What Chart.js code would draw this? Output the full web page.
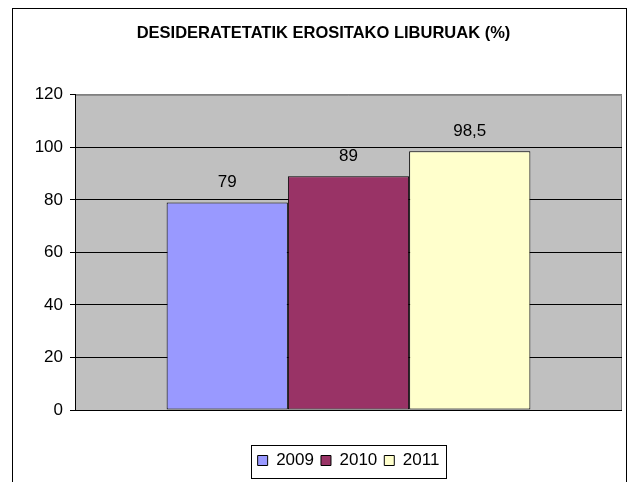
<!DOCTYPE html>
<html>
<head>
<meta charset="utf-8">
<script src="https://cdn.jsdelivr.net/npm/chart.js@4"></script>
<style>
    body {margin: 0; background: #fff;}
    canvas {display: block;}
</style>
</head>
<body>
<canvas id="chart" width="638" height="482"></canvas>
<script>
const categories = ['']
const years = ['2009', '2010', '2011']
const values = [79, 89, 98.5]
const yTicks = [0, 20, 40, 60, 80, 100, 120]

const colors = ['#9999FF', '#993366', '#FFFFCC']
const font = "'Liberation Sans', Arial, sans-serif"

// excel-like frame, plot background and value labels
const excelLook = {
    id: 'excelLook',
    beforeDraw(chart) {
        const {ctx, chartArea: a} = chart
        ctx.save()
        ctx.strokeStyle = '#000'
        ctx.lineWidth = 1
        ctx.strokeRect(12.5, 8.5, 614, 500)
        ctx.fillStyle = '#C0C0C0'
        ctx.fillRect(a.left, a.top, a.right - a.left, a.bottom - a.top)
        ctx.strokeStyle = '#808080'
        ctx.beginPath()
        ctx.moveTo(a.left, a.top + 0.5)
        ctx.lineTo(a.right - 0.5, a.top + 0.5)
        ctx.lineTo(a.right - 0.5, a.bottom)
        ctx.stroke()
        ctx.restore()
    },
    afterDatasetsDraw(chart) {
        const {ctx} = chart
        ctx.save()
        ctx.fillStyle = '#000'
        ctx.font = '17px ' + font
        ctx.textAlign = 'center'
        ctx.textBaseline = 'middle'
        chart.data.datasets.forEach((ds, i) => {
            const bar = chart.getDatasetMeta(i).data[0]
            ctx.fillText(String(ds.data[0]).replace('.', ','), bar.x, bar.y - 20)
        })
        ctx.restore()
    },
    afterDraw(chart) {
        const boxes = chart.legend.legendHitBoxes
        if (!boxes || !boxes.length) return
        const left = Math.min(...boxes.map(b => b.left))
        const right = Math.max(...boxes.map(b => b.left + b.width))
        const {ctx} = chart
        ctx.save()
        ctx.strokeStyle = '#000'
        ctx.lineWidth = 1
        ctx.strokeRect(Math.round(left) - 6.5, 445.5, Math.round(right - left) + 13, 33)
        ctx.restore()
    }
}

new Chart(document.getElementById('chart'), {
    type: 'bar',
    data: {
        labels: categories,
        datasets: years.map((y, i) => ({
            label: y,
            data: [values[i]],
            backgroundColor: colors[i],
            borderColor: '#000',
            borderWidth: 1,
            borderSkipped: false,
            categoryPercentage: 0.665,
            barPercentage: 1
        }))
    },
    options: {
        responsive: false,
        animation: false,
        layout: {padding: {left: 25, right: 16, top: 12, bottom: 3}},
        plugins: {
            title: {
                display: true,
                text: 'DESIDERATETATIK EROSITAKO LIBURUAK (%)',
                color: '#000',
                font: {family: font, size: 16.5, weight: 'bold'},
                padding: {top: 12, bottom: 51}
            },
            legend: {
                position: 'bottom',
                fullSize: false,
                labels: {
                    color: '#000',
                    font: {family: font, size: 17},
                    boxWidth: 10,
                    boxHeight: 10,
                    padding: 7
                }
            },
            tooltip: {enabled: false}
        },
        scales: {
            x: {
                ticks: {display: false},
                grid: {display: false},
                border: {display: false},
                afterFit(scale) { scale.height = 35 }
            },
            y: {
                min: 0,
                max: 120,
                afterFit(scale) { scale.width = 50 },
                afterBuildTicks(scale) { scale.ticks = yTicks.map(v => ({value: v})) },
                ticks: {color: '#000', padding: 7, font: {family: font, size: 17}},
                grid: {
                    color: c => c.tick && c.tick.value === 120 ? '#808080' : '#000',
                    tickColor: '#000',
                    tickLength: 5
                },
                border: {color: '#000'}
            }
        }
    },
    plugins: [excelLook]
})
</script>
</body>
</html>
